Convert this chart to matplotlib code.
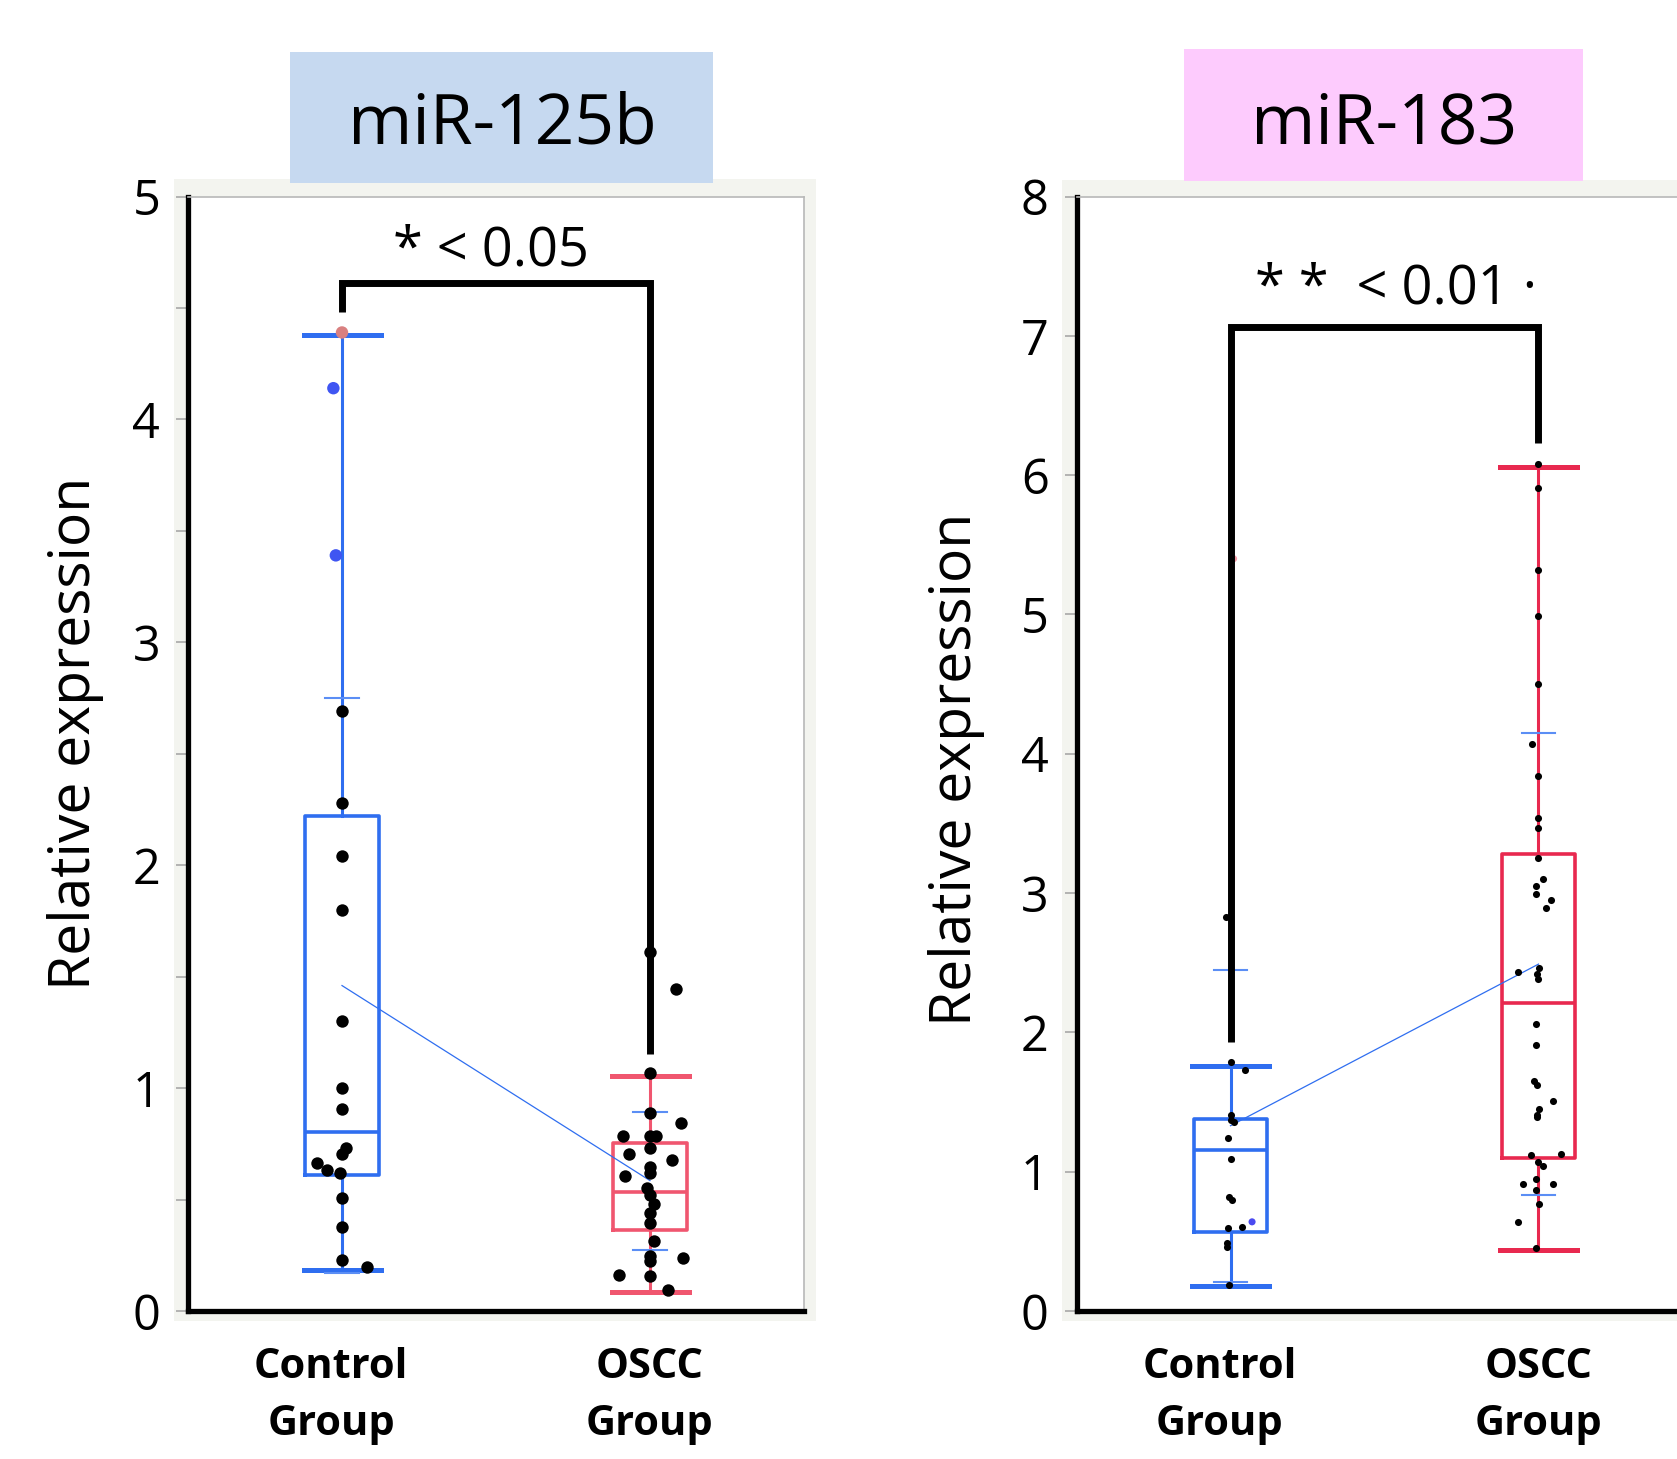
import matplotlib
matplotlib.use("Agg")
import matplotlib.pyplot as plt
from matplotlib.patches import Rectangle
from matplotlib.transforms import ScaledTranslation
import numpy as np

plt.rcParams['font.family'] = ['Open Sans', 'DejaVu Sans']

# ---------------- data ----------------
groups = ["Control\nGroup", "OSCC\nGroup"]
titles = ["miR-125b", "miR-183"]
p_labels = ["* < 0.05", "* *  < 0.01 ·"]

# miR-125b : box stats [whislo, q1, med, q3, whishi]
m125_box_ctrl = [0.184, 0.609, 0.805, 2.22, 4.378]
m125_box_oscc = [0.085, 0.364, 0.534, 0.753, 1.055]
m125_mean = [1.46, 0.585]
m125_sd = [1.29, 0.31]
m125_ctrl_vals = [2.69, 2.28, 2.04, 1.80, 1.30, 1.00, 0.905, 0.73, 0.705, 0.665,
                  0.633, 0.617, 0.505, 0.377, 0.228, 0.197]
m125_ctrl_jit = [0, 0, 0, 0, 0, 0, 0, 0.014, 0, -0.08, -0.05, -0.007, 0, 0, 0, 0.08]
m125_ctrl_hl_vals = [4.39, 4.14, 3.39]
m125_ctrl_hl_jit = [0, -0.028, -0.02]
m125_ctrl_hl_cols = ["#d98080", "#3f55f2", "#3f55f2"]
m125_oscc_vals = [1.61, 1.445, 1.066, 0.889, 0.845, 0.785, 0.785, 0.785, 0.73, 0.705,
                  0.676, 0.644, 0.617, 0.604, 0.553, 0.521, 0.481, 0.44, 0.393, 0.313,
                  0.248, 0.236, 0.224, 0.163, 0.155, 0.096]
m125_oscc_jit = [0, 0.085, 0, 0, 0.1, -0.087, 0, 0.02, 0, -0.068,
                 0.07, 0, 0, -0.08, -0.01, 0, 0.014, 0, 0, 0.014,
                 0, 0.106, 0, -0.1, 0, 0.06]
m125_bracket = [4.48, 4.61, 1.154]   # left foot, top, right foot

# miR-183
m183_box_ctrl = [0.18, 0.569, 1.159, 1.377, 1.76]
m183_box_oscc = [0.436, 1.095, 2.21, 3.28, 6.06]
m183_mean = [1.33, 2.49]
m183_sd = [1.12, 1.66]
m183_ctrl_vals = [2.83, 1.79, 1.73, 1.41, 1.37, 1.36, 1.24, 1.09, 0.82, 0.80,
                  0.595, 0.60, 0.487, 0.46, 0.19]
m183_ctrl_jit = [-0.013, 0, 0.046, 0, 0, 0.01, -0.008, 0, -0.005, 0.005,
                 -0.007, 0.036, -0.01, -0.01, -0.005]
m183_ctrl_hl_vals = [0.64, 5.40]
m183_ctrl_hl_jit = [0.07, 0.01]
m183_ctrl_hl_cols = ["#4a4af0", "#f39aa5"]
m183_oscc_vals = [6.08, 5.91, 5.32, 4.99, 4.50, 4.07, 3.84, 3.54, 3.47, 3.25,
                  3.10, 3.05, 2.99, 2.95, 2.89, 2.43, 2.46, 2.42, 2.38,
                  2.06, 1.91, 1.65, 1.62, 1.51, 1.45, 1.41, 1.39,
                  1.12, 1.13, 1.07, 1.04, 0.95, 0.91, 0.91, 0.87, 0.77, 0.64, 0.45]
m183_oscc_jit = [0, 0, 0, 0, 0, -0.02, 0, 0, 0, 0,
                 0.016, -0.007, -0.007, 0.042, 0.025, -0.065, 0.003, -0.004, 0,
                 -0.007, -0.007, -0.013, -0.004, 0.046, 0.003, -0.004, -0.004,
                 -0.023, 0.072, 0, 0.016, -0.007, -0.05, 0.046, -0.007, 0.003, -0.065, -0.007]
m183_bracket = [1.93, 7.06, 6.23]

W, H = 1677, 1459
fig = plt.figure(figsize=(W / 100, H / 100), dpi=100)
fig.patch.set_facecolor("white")

BLUE = "#2f6ef0"
LBLUE = "#5b8ef5"


def fx(px):
    return px / W


def fy(py):
    return 1 - py / H


# background gray frames and title boxes
fig.patches.append(Rectangle((fx(174), fy(1321)), fx(816 - 174), (1321 - 179) / H,
                             transform=fig.transFigure, facecolor="#f3f4ef", edgecolor="none", zorder=-5))
fig.patches.append(Rectangle((fx(1062), fy(1321)), fx(1677 - 1062), (1321 - 180) / H,
                             transform=fig.transFigure, facecolor="#f3f4ef", edgecolor="none", zorder=-5))
fig.patches.append(Rectangle((fx(290), fy(183)), fx(713 - 290), (183 - 52) / H,
                             transform=fig.transFigure, facecolor="#c6d9f0", edgecolor="none", zorder=-4))
fig.patches.append(Rectangle((fx(1184), fy(181)), fx(1583 - 1184), (181 - 49) / H,
                             transform=fig.transFigure, facecolor="#fdcbfd", edgecolor="none", zorder=-4))
fig.text(fx(502), fy(144), titles[0], ha="center", va="baseline", fontsize=50)
fig.text(fx(1384), fy(143), titles[1], ha="center", va="baseline", fontsize=50)

ax_b = fy(1311)
ax_h = (1311 - 196.5) / H
ax_w = 616 / W
ax1 = fig.add_axes([fx(188), ax_b, ax_w, ax_h])
ax2 = fig.add_axes([fx(1076.5), ax_b, ax_w, ax_h])


def panel(ax, ymax, minor, box_c, box_o, red, mean, sd, cv, cj, hv, hj, hc, ov, oj,
          dot_s, bracket, plabel, pxy, ylab_xy):
    ax.set_facecolor("white")
    for pos, st, col in [(1, box_c, BLUE), (2, box_o, red)]:
        stats = dict(whislo=st[0], q1=st[1], med=st[2], q3=st[3], whishi=st[4], fliers=[], label="")
        ax.bxp([stats], positions=[pos], widths=0.24, capwidths=0.25, showfliers=False,
               manage_ticks=False,
               boxprops=dict(color=col, lw=2.6),
               whiskerprops=dict(color=col, lw=2.2),
               capprops=dict(color=col, lw=3.6),
               medianprops=dict(color=col, lw=2.6))
    # mean line and mean +/- SD ticks
    ax.plot([1, 2], mean, color=BLUE, lw=0.9, zorder=3)
    for pos, m, s in zip([1, 2], mean, sd):
        for v in (m + s, m - s):
            ax.plot([pos - 0.055, pos + 0.055], [v, v], color=LBLUE, lw=1.5, zorder=3)
    # points
    ax.scatter(1 + np.array(cj), cv, s=dot_s, color="black", zorder=4, lw=0)
    ax.scatter(2 + np.array(oj), ov, s=dot_s, color="black", zorder=4, lw=0)
    ax.scatter(1 + np.array(hj), hv, s=dot_s, color=hc, zorder=4, lw=0)
    # significance bracket
    ax.plot([1, 1, 2, 2], [bracket[0], bracket[1], bracket[1], bracket[2]],
            color="black", lw=5, solid_joinstyle="miter", solid_capstyle="butt", zorder=6)
    ax.text(pxy[0], pxy[1], plabel, ha="center", va="baseline", fontsize=39,
            transform=fig.transFigure)

    ax.set_xlim(0.5, 2.5)
    ax.set_ylim(0, ymax)
    ax.set_yticks(np.arange(0, ymax + 1, 1))
    ax.set_yticklabels([str(i) for i in range(ymax + 1)])
    if minor:
        ax.set_yticks(np.arange(0.5, ymax, 1.0), minor=True)
    ax.tick_params(axis="y", which="both", direction="out", length=9, width=1.2,
                   color="#a8a8a8", labelsize=35, pad=11)
    ax.set_xticks([1, 2])
    ax.set_xticklabels(groups, fontsize=30, fontweight="bold", linespacing=1.5)
    ax.tick_params(axis="x", length=0, pad=26)
    lbl = ax.get_xticklabels()[0]
    lbl.set_transform(lbl.get_transform() + ScaledTranslation(-0.11, 0, fig.dpi_scale_trans))
    ax.set_ylabel("Relative expression", fontsize=41)
    ax.yaxis.set_label_coords(ylab_xy[0], ylab_xy[1])
    for side in ("left", "bottom"):
        ax.spines[side].set_linewidth(3.8)
        ax.spines[side].set_color("black")
    for side in ("top", "right"):
        ax.spines[side].set_linewidth(1.2)
        ax.spines[side].set_color("#b8b8b8")


panel(ax1, 5, True, m125_box_ctrl, m125_box_oscc, "#f0566f", m125_mean, m125_sd,
      m125_ctrl_vals, m125_ctrl_jit, m125_ctrl_hl_vals, m125_ctrl_hl_jit, m125_ctrl_hl_cols,
      m125_oscc_vals, m125_oscc_jit, 80, m125_bracket, p_labels[0], (fx(491), fy(265)),
      (-0.137, 0.518))
panel(ax2, 8, False, m183_box_ctrl, m183_box_oscc, "#e8294f", m183_mean, m183_sd,
      m183_ctrl_vals, m183_ctrl_jit, m183_ctrl_hl_vals, m183_ctrl_hl_jit, m183_ctrl_hl_cols,
      m183_oscc_vals, m183_oscc_jit, 26, m183_bracket, p_labels[1], (fx(1396), fy(304)),
      (-0.148, 0.486))

fig.savefig("out.png", dpi=100)
